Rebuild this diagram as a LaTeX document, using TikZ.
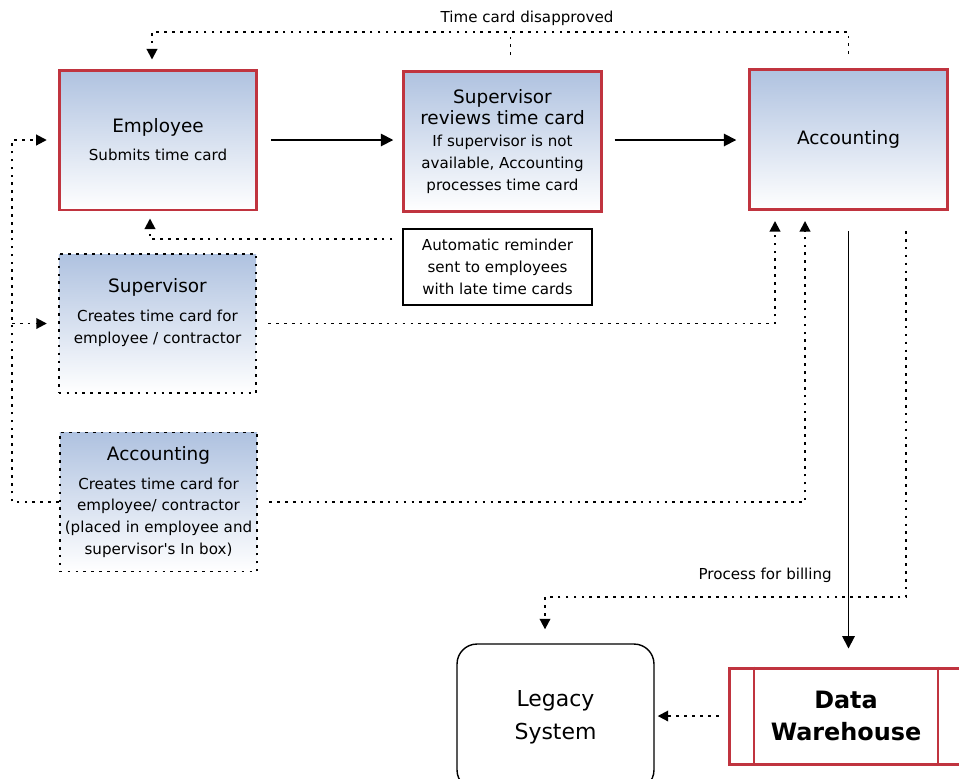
\documentclass[tikz,border=0pt]{standalone}
\usepackage{fontspec}
\setmainfont{DejaVu Sans}
\usepackage{tikz}
\usetikzlibrary{positioning, arrows.meta, calc}
\definecolor{cardred}{HTML}{C0343F}
\definecolor{cardblue}{HTML}{AFC2E0}
\newcommand{\titlefont}{\fontsize{10.5}{14.7}\selectfont}
\newcommand{\notefont}{\fontsize{8.6}{12.5}\selectfont}

\begin{document}
\begin{tikzpicture}[x=0.02cm, y=-0.02cm,
  card/.style={draw=cardred, line width=1.7pt, top color=cardblue, bottom color=white,
    minimum width=3.95cm, minimum height=2.8cm, align=center, inner sep=2pt, font=\notefont},
  draftcard/.style={draw, line width=1.1pt, dash pattern=on 1.5pt off 3pt,
    top color=cardblue, bottom color=white, font=\notefont,
    minimum width=3.95cm, minimum height=2.78cm, align=center, inner sep=1pt},
  flow/.style={line width=1pt, -{Triangle[width=7pt,length=7pt]}},
  dotline/.style={line width=1.1pt, dash pattern=on 1.5pt off 3pt},
  dotflow/.style={dotline, -{Triangle[width=6pt,length=6pt]}}]
\useasboundingbox (0,0) rectangle (959,778);

% Main cards
\node[card] (emp) at (158,140) {\titlefont Employee\\[3.4pt] Submits time card};
\node[card] (rev) at (502.5,141.5) {\titlefont Supervisor\\ \titlefont reviews time card\\
  If supervisor is not\\ available, Accounting\\ processes time card};
\node[card] (acc) at (848.5,139.5) {\titlefont Accounting};

% Alternative entry
\node[draftcard] (sup2) at (157.5,323.5) {\titlefont Supervisor\\[4pt]
  Creates time card for\\ employee / contractor\\[2pt]\mbox{}};
\node[draftcard] (acc2) at (158.5,502) {\titlefont Accounting\\[4pt]
  Creates time card for\\ employee/ contractor\\ (placed in employee and\\
  supervisor\textquotesingle s In box)};

% Reminder
\node[draw, line width=0.8pt, fill=white, minimum width=3.78cm, minimum height=1.52cm,
  align=center, inner sep=1pt, font=\notefont] (rem) at (497.5,267)
  {Automatic reminder\\ sent to employees\\ with late time cards};

% Systems
\node[draw, line width=0.8pt, rounded corners=0.4cm, minimum width=3.94cm,
  minimum height=2.92cm, align=center, font=\fontsize{12.5}{19}\selectfont]
  (leg) at (555.5,717) {Legacy\\ System};
\node[draw=cardred, line width=1.7pt, fill=white, minimum width=4.68cm,
  minimum height=1.92cm, align=center, font=\fontsize{13.6}{18}\selectfont\bfseries]
  (dw) at (846,716) {Data\\ Warehouse};
\foreach \s in {1,-1}{
  \draw[cardred, line width=0.8pt]
    ($(dw.north)+(\s*92,0)$) -- ($(dw.south)+(\s*92,0)$);
}

% Labels
\node[font=\notefont] (tdis) at (527,18) {Time card disapproved};
\node[font=\notefont, anchor=east] (bill) at (838,575) {Process for billing};

% Main flow
\draw[flow, shorten <=0.26cm, shorten >=0.18cm] (emp.east) -- (emp.east -| rev.west);
\draw[flow, shorten <=0.24cm, shorten >=0.24cm] (emp.east -| rev.east) -- (emp.east -| acc.west);
\draw[flow, shorten <=0.4cm, shorten >=0.36cm] (acc.south) -- (acc.south |- dw.north);

% Time card disapproved
\coordinate (top) at (0,32);
\coordinate (revtop) at ($(rev.north)+(8,0)$);
\draw[dotflow, shorten <=0.28cm, shorten >=0.18cm]
  (acc.north) -- (acc.north |- top) -| ($(emp.north)+(-6,0)$);
\draw[dotline, shorten <=0.3cm] (revtop) -- (revtop |- top);

% Reminder back to employee
\draw[dotflow, shorten <=0.2cm, shorten >=0.14cm]
  ($(rem.west)+(0,-28)$) -| ($(emp.south)+(-8,0)$);

% Left loop
\coordinate (lp) at (12,0);
\draw[dotflow, shorten >=0.22cm] (acc2.west) -- (acc2.west -| lp) |- (emp.west);
\draw[dotflow, shorten >=0.22cm] (lp |- sup2.west) -- (sup2.west);

% Into accounting
\draw[dotflow, shorten <=0.22cm, shorten >=0.2cm]
  (sup2.east) -| ($(acc.south)+(-73.5,0)$);
\draw[dotflow, shorten <=0.22cm, shorten >=0.2cm]
  (acc2.east) -| ($(acc.south)+(-43.5,0)$);

% Billing
\coordinate (billrow) at (0,597);
\coordinate (accout) at ($(acc.south)+(57.5,0)$);
\draw[dotflow, shorten <=0.4cm, shorten >=0.28cm]
  (accout) -- (accout |- billrow) -| ($(leg.north)+(-10.5,0)$);
\draw[dotflow, shorten <=0.18cm, shorten >=0.06cm] (dw.west) -- (dw.west -| leg.east);
\end{tikzpicture}
\end{document}
